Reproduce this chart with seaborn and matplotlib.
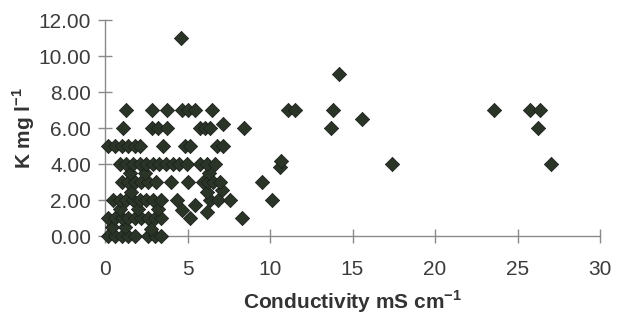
import matplotlib
matplotlib.use("Agg")
import matplotlib.pyplot as plt
import seaborn as sns
import pandas as pd
from matplotlib.ticker import FormatStrFormatter

# Conductivity (mS cm-1) and K (mg l-1) values
conductivity = [
    # K = 0
    0.2, 0.6, 1.0, 1.4, 1.8, 2.6, 3.0, 3.4,
    # K ~ 0.5
    0.4, 1.2, 2.8,
    # K = 1
    0.2, 0.6, 1.0, 1.4, 1.8, 2.2, 2.6, 3.0, 3.4, 5.15, 8.3,
    # K ~ 1.5
    0.9, 2.0, 3.2, 4.65, 5.45, 6.16,
    # K = 2
    0.5, 0.9, 1.3, 1.7, 2.1, 2.5, 2.9, 3.4, 4.35, 6.36, 6.87, 7.58, 10.1,
    # K ~ 2.5
    1.6, 6.16, 7.07,
    # K = 3
    1.0, 1.4, 1.8, 2.2, 2.6, 3.1, 4.0, 5.05, 5.96, 6.26, 6.56, 6.97, 9.5,
    # K ~ 3.5
    1.5, 2.4, 6.3,
    # K = 4
    0.9, 1.3, 1.7, 2.1, 2.5, 2.9, 3.3, 3.7, 4.1, 4.5, 4.95, 5.76, 6.16, 6.67,
    10.6, 10.65, 17.4, 27.0,
    # K = 5
    0.2, 0.6, 1.0, 1.4, 1.8, 2.1, 3.5, 4.85, 5.15, 6.77, 7.17,
    # K = 6
    1.1, 2.87, 3.2, 3.74, 5.76, 6.06, 6.36, 7.17, 8.4, 13.7, 26.26,
    # K = 6.5
    15.55,
    # K = 7
    1.25, 2.87, 3.74, 4.65, 5.05, 5.45, 6.47, 11.1, 11.5, 13.8, 23.6, 25.76, 26.36,
    # high values
    14.2, 4.6,
]
potassium = (
    [0.0] * 8
    + [0.5, 0.5, 0.4]
    + [1.0] * 11
    + [1.5, 1.5, 1.5, 1.45, 1.7, 1.35]
    + [2.0] * 13
    + [2.45, 2.45, 2.55]
    + [3.0] * 13
    + [3.5, 3.5, 3.5]
    + [4.0] * 14 + [3.85, 4.15, 4.0, 4.0]
    + [5.0] * 11
    + [6.0] * 7 + [6.2, 6.0, 6.0, 6.0]
    + [6.5]
    + [7.0] * 13
    + [9.0, 11.0]
)

df = pd.DataFrame({"Conductivity": conductivity, "K": potassium})

sns.set_theme(style="white")
plt.rcParams["font.family"] = ["Liberation Sans", "DejaVu Sans"]
plt.rcParams["mathtext.fontset"] = "custom"
plt.rcParams["mathtext.rm"] = "Liberation Sans"
plt.rcParams["mathtext.bf"] = "Liberation Sans:bold"

fig = plt.figure(figsize=(6.22, 3.27), dpi=100)
ax = fig.add_axes([105 / 622, 1 - 236 / 327, 495 / 622, 216 / 327])

sns.scatterplot(data=df, x="Conductivity", y="K", ax=ax, marker="D", s=52,
                color="#2a3528", edgecolor="#1c211b", linewidth=0.6, alpha=1.0,
                clip_on=False, zorder=3)

ax.set_xlim(0, 30)
ax.set_ylim(0, 12)
ax.set_xticks([0, 5, 10, 15, 20, 25, 30])
ax.set_yticks([0, 2, 4, 6, 8, 10, 12])
ax.yaxis.set_major_formatter(FormatStrFormatter("%.2f"))

for side in ["top", "right"]:
    ax.spines[side].set_visible(False)
for side in ["left", "bottom"]:
    ax.spines[side].set_color("#8a8a8a")
    ax.spines[side].set_linewidth(1.0)

ax.tick_params(axis="both", which="major", bottom=True, left=True,
               direction="inout", length=10, width=1.0,
               color="#8a8a8a", labelsize=15, labelcolor="#3c3c3c")
ax.tick_params(axis="x", pad=12)
ax.tick_params(axis="y", pad=5)

ax.set_xlabel("Conductivity mS cm$^{\\mathbf{-1}}$", fontsize=15, fontweight="bold",
              color="#333333", labelpad=7)
ax.set_ylabel("K mg l$^{\\mathbf{-1}}$", fontsize=15, fontweight="bold",
              color="#333333", labelpad=1)

fig.savefig("out.png", dpi=100, facecolor="white")
